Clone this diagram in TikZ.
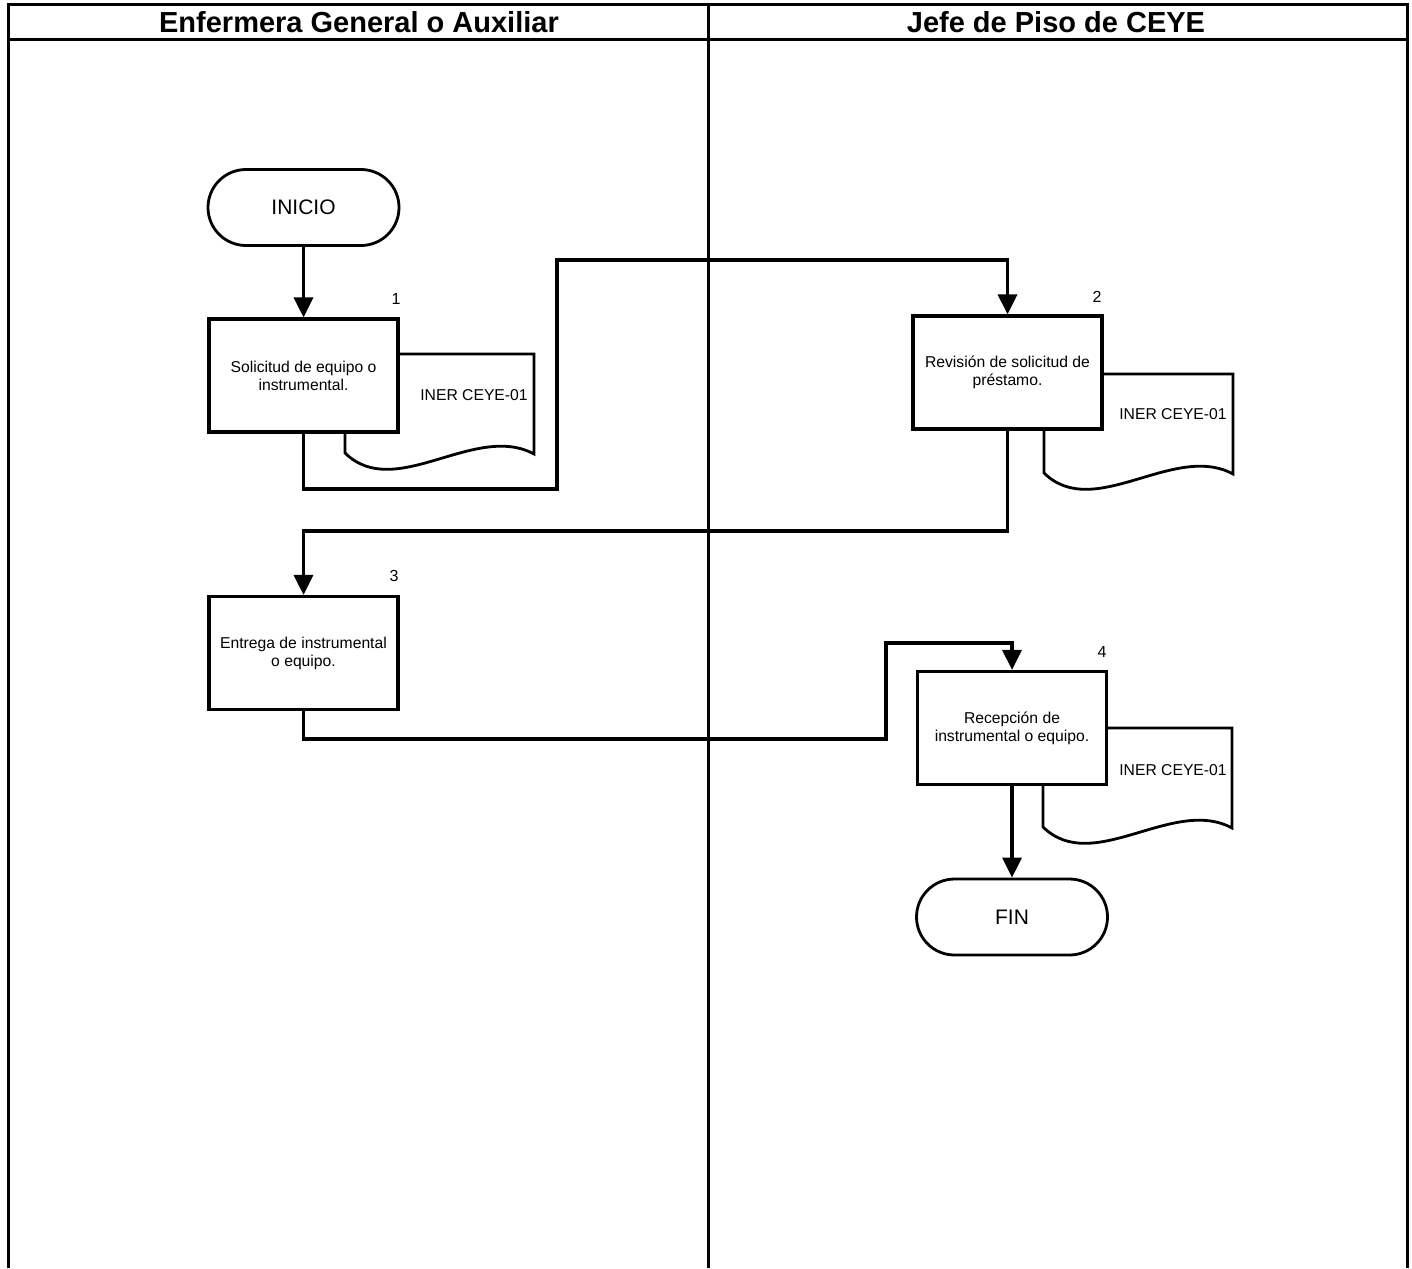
\documentclass[tikz,border=0pt]{standalone}
\usepackage{fontspec}
\setmainfont{Liberation Sans}
\usetikzlibrary{arrows.meta,shapes.misc}
\begin{document}
\begin{tikzpicture}[x=1pt,y=-1pt,
 proc/.style={draw,line width=3.2pt,fill=white,minimum width=189pt,minimum height=113pt,inner sep=0pt,align=center,font=\fontsize{15.7}{18}\selectfont},
 term/.style={draw,rounded rectangle,line width=2.8pt,fill=white,minimum width=191pt,minimum height=76pt,inner sep=0pt,font=\fontsize{21}{24}\selectfont},
 conn/.style={line width=3.2pt},
 arr/.style={conn,-{Triangle[length=20pt,width=19pt]}},
 doc/.style={draw,line width=2.8pt,fill=white,line join=miter},
 doclabel/.style={font=\fontsize{15.7}{18}\selectfont,inner sep=0pt},
 num/.style={font=\fontsize{16}{18}\selectfont,inner sep=0pt},
 head/.style={font=\fontsize{29}{32}\bfseries\selectfont,inner sep=0pt},
 lane/.style={line width=3pt}]
\useasboundingbox[fill=white] (0,0) rectangle (1412,1268);
% lanes
\draw[lane] (8.5,1268) -- (8.5,5) -- (1407.5,5) -- (1407.5,1268);
\draw[lane] (8.5,40) -- (1407.5,40);
\draw[lane] (708,5) -- (708,1268);
\node[head] (h1) at (359,22) {Enfermera General o Auxiliar};
\node[head] (h2) at (1056,22) {Jefe de Piso de CEYE};
% documents
\begin{scope}[shift={(345,354)}]
\draw[doc] (0,0) -- (189,0) -- (189,100) .. controls (130,68) and (50,148) .. (0,99) -- cycle;
\end{scope}
\begin{scope}[shift={(1044,374)}]
\draw[doc] (0,0) -- (189,0) -- (189,100) .. controls (130,68) and (50,148) .. (0,99) -- cycle;
\end{scope}
\begin{scope}[shift={(1043,728)}]
\draw[doc] (0,0) -- (189,0) -- (189,100) .. controls (130,68) and (50,148) .. (0,99) -- cycle;
\end{scope}
\node[doclabel] (d1) at (474,395) {INER CEYE-01};
\node[doclabel] (d2) at (1173,414) {INER CEYE-01};
\node[doclabel] (d4) at (1173,770) {INER CEYE-01};
% nodes
\node[term] (ini) at (303.5,207.5) {INICIO};
\node[proc] (b1) at (303.5,375.5) {Solicitud de equipo o\\instrumental.};
\node[proc] (b2) at (1007.5,372.5) {Revisión de solicitud de\\préstamo.};
\node[proc] (b3) at (303.5,653) {Entrega de instrumental\\o equipo.};
\node[proc] (b4) at (1012,728) {Recepción de\\instrumental o equipo.};
\node[term] (fin) at (1012,917) {FIN};
\node[num] (n1) at (396,299) {1};
\node[num] (n2) at (1097,297) {2};
\node[num] (n3) at (394,576) {3};
\node[num] (n4) at (1102,652) {4};
% connectors
\coordinate (k1) at (557,489);
\coordinate (k2) at (557,260);
\coordinate (k3) at (303.5,531);
\coordinate (k4) at (886,739);
\coordinate (k5) at (886,643);
\draw[arr] (ini.south) -- (b1.north);
\draw[arr] (b1.south) |- (k1) -- (k2) -| (b2.north);
\draw[arr] (b2.south) |- (k3) -- (b3.north);
\draw[arr] (b3.south) |- (k4) -- (k5) -| (b4.north);
\draw[arr] (b4.south) -- (fin.north);
\end{tikzpicture}
\end{document}
